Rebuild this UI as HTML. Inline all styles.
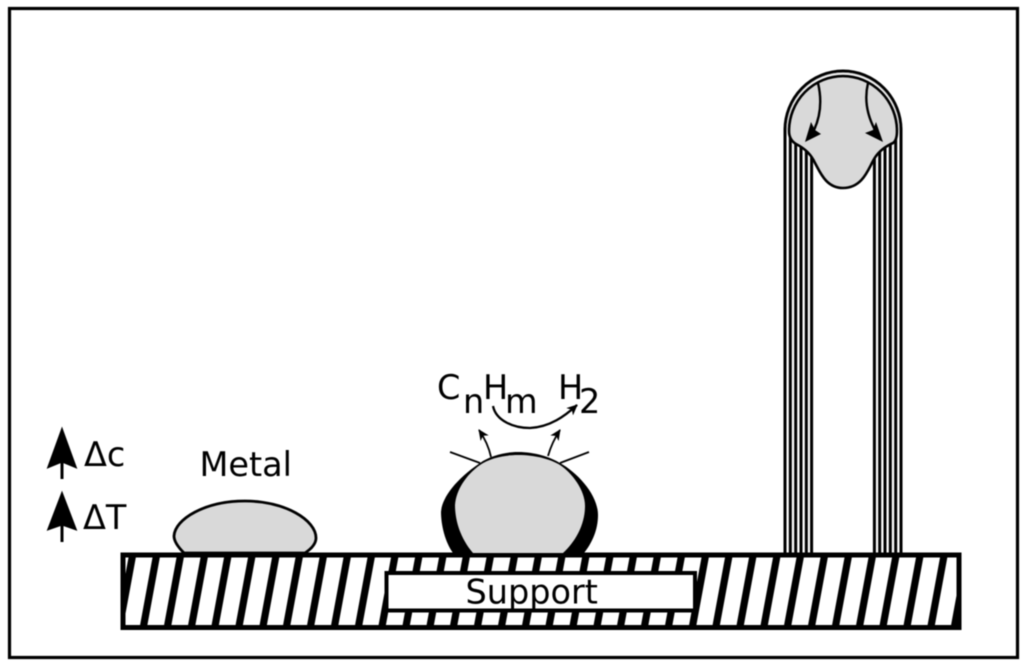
<!DOCTYPE html>
<html><head><meta charset="utf-8"><style>
html,body{margin:0;padding:0;background:#fff;width:1024px;height:664px;overflow:hidden}
svg{display:block;filter:blur(0.5px)}
text{font-family:"DejaVu Sans","Liberation Sans",sans-serif;font-size:33.500px;fill:#000}
</style></head><body>
<svg width="1024" height="664" viewBox="0 0 1024 664" xmlns="http://www.w3.org/2000/svg">
<defs>
<clipPath id="c"><rect x="121" y="553" width="840" height="76"/></clipPath>
<marker id="m" markerWidth="12" markerHeight="10" refX="10" refY="5" orient="auto" markerUnits="userSpaceOnUse"><path d="M0 0L11 5L0 10L3 5Z" fill="#000"/></marker>
</defs>
<rect width="1024" height="664" fill="#fff"/>
<rect x="9.500" y="8.500" width="1008" height="649" fill="#fff" stroke="#000" stroke-width="3.200"/>

<!-- hatch -->
<g clip-path="url(#c)" stroke="#000" stroke-width="7.200" fill="none">
<path d="M133 553L119 629M157 553L143 629M181 553L167 629M205 553L191 629M228.500 553L214.500 629M252.500 553L238.500 629M276.500 553L262.500 629M300 553L286 629M324 553L310 629M348 553L334 629M372 553L358 629M395.500 553L381.500 629M419.500 553L405.500 629M443.500 553L429.500 629M467 553L453 629M491 553L477 629M515 553L501 629M539 553L525 629M562.500 553L548.500 629M586.500 553L572.500 629M610.500 553L596.500 629M634 553L620 629M658 553L644 629M682 553L668 629M706 553L692 629M729.500 553L715.500 629M753.500 553L739.500 629M777.500 553L763.500 629M801 553L787 629M825 553L811 629M849 553L835 629M873 553L859 629M896.500 553L882.500 629M920.500 553L906.500 629M944.500 553L930.500 629M968 553L954 629"/>
</g>
<rect x="123" y="555" width="836" height="72.500" fill="none" stroke="#000" stroke-width="5"/>
<rect x="386.500" y="573" width="308.500" height="37.500" fill="#fff" stroke="#000" stroke-width="4"/>
<text x="465.500" y="603.500">Support</text>

<!-- metal -->
<path d="M184 553C177 546 174 541 174 536C175 519 205 501 245 501C285 501 316 520 316 538C316 544 311 549 305 553Z" fill="#d9d9d9" stroke="#000" stroke-width="2.800"/>
<text x="199.500" y="476">Metal</text>

<!-- left arrows -->
<path d="M62 428L76.500 468L62 462L47.500 468Z" fill="#000" stroke="#000" stroke-width="1"/>
<path d="M62 460V479" stroke="#000" stroke-width="3"/>
<path d="M62 492L76.500 530L62 525L47.500 530Z" fill="#000" stroke="#000" stroke-width="1"/>
<path d="M62 523V542" stroke="#000" stroke-width="3"/>
<text x="84" y="466">Δc</text>
<text x="83" y="529">ΔT</text>

<!-- particle 2 -->
<path d="M453 553C445 542 441 525 441 512C442 498 455 480 480 463C490 456 505 452 518 452C535 452 550 457 560 463C578 473 598 495 598 515C598 530 592 543 584 553Z" fill="#000"/>
<path d="M473 553C460 538 455 520 455 505C456 490 466 475 480 465C490 458 505 455 518 455C535 455 550 459 560 465C572 473 585 490 585 506C585 525 575 542 563 553Z" fill="#d9d9d9"/>
<path d="M480 463L450 452M560 463L589 452" stroke="#000" stroke-width="1.800" fill="none"/>
<path d="M491 457Q488 443 479 430" stroke="#000" stroke-width="1.800" fill="none" marker-end="url(#m)"/>
<path d="M548 456Q552 442 560 430" stroke="#000" stroke-width="1.800" fill="none" marker-end="url(#m)"/>
<path d="M493 406C496 421 514 428 530 428C550 427 565 416 577 405" stroke="#000" stroke-width="2.300" fill="none" marker-end="url(#m)"/>
<text x="437" y="399">C</text><text x="463" y="413">n</text><text x="483" y="399">H</text><text x="505" y="413">m</text><text x="558" y="399">H</text><text x="579" y="413">2</text>

<!-- tube -->
<g stroke="#000" stroke-width="3" fill="none">
<path d="M785 130V553M790.300 130V553M795.700 140V553M801 145V553M806.300 150V553M811.600 155V553"/>
<path d="M874.400 155V553M879.700 150V553M885 145V553M890.300 140V553M895.700 130V553M901 130V553"/>
<path d="M785 130A58 59 0 0 1 901 130"/>
</g>
<path d="M789 131A54 55 0 0 1 897 131C897 137 896 141 893 143C884 147 877 153 873 161C868 170 862 188 843 188C826 188 820 172 815 163C811 154 804 148 796 144C791 141 789 137 789 131Z" fill="#d9d9d9" stroke="#000" stroke-width="2.600"/>
<path d="M787 130A56 57 0 0 1 899 130" fill="none" stroke="#d9d9d9" stroke-width="1.200"/>
<path d="M818 83C822 100 821 115 814 130" stroke="#000" stroke-width="2.400" fill="none"/>
<path d="M805 142L811 122L815 130L821 134Z" fill="#000"/>
<path d="M868 83C864 100 867 115 875 130" stroke="#000" stroke-width="2.400" fill="none"/>
<path d="M883 142L865 133L873 130L876 122Z" fill="#000"/>
</svg>
</body></html>
